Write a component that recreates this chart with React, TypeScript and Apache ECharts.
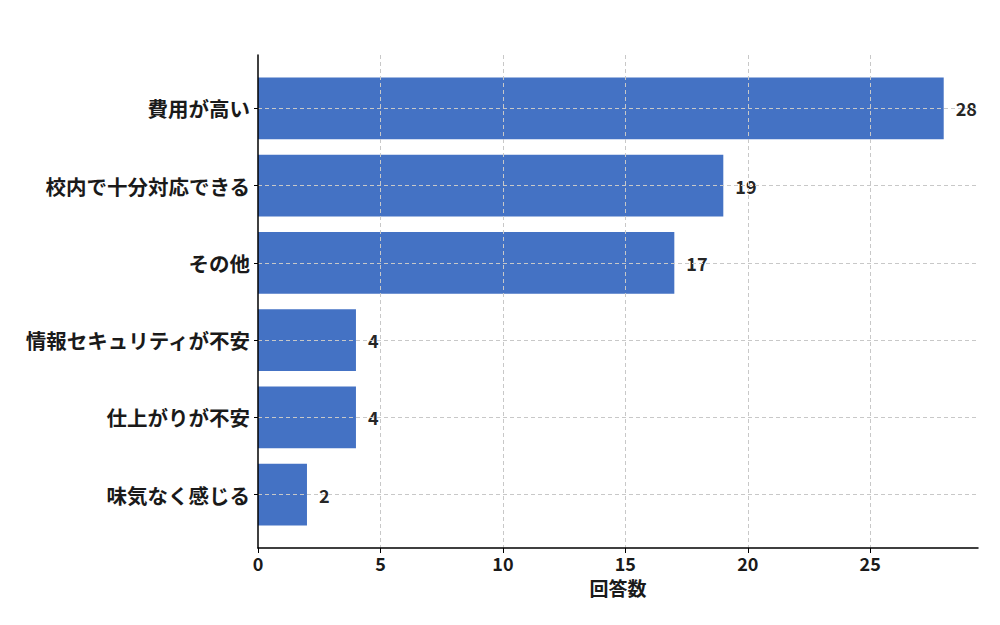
import React, { useEffect, useRef } from "react";
import * as echarts from "echarts";

const categories = ["費用が高い", "校内で十分対応できる", "その他", "情報セキュリティが不安", "仕上がりが不安", "味気なく感じる"];
const values = [28, 19, 17, 4, 4, 2];
const xTicks = [0, 5, 10, 15, 20, 25];
const xMax = 29.4;
const axisName = "回答数";

const FONT = "'Noto Sans CJK JP', 'Noto Sans', sans-serif";

export default function App() {
  const ref = useRef<HTMLDivElement>(null);
  useEffect(() => {
    if (!ref.current) return;
    const chart = echarts.init(ref.current, null, { renderer: "svg" });
    const gridColor = "#c8c8c8";
    chart.setOption({
      animation: false,
      backgroundColor: "#fff",
      grid: [
        { left: 258, right: 22, top: 69.7, bottom: 91.7 },
        { left: 258, right: 22, top: 55, bottom: 77 },
      ],
      xAxis: [
        { gridIndex: 0, type: "value", min: 0, max: xMax, show: false },
        {
          gridIndex: 1,
          type: "value",
          min: 0,
          max: xMax,
          interval: 5,
          z: 5,
          axisLine: { show: true, lineStyle: { color: "#000", width: 1.5 } },
          axisTick: { show: true, length: 5, lineStyle: { color: "#000" } },
          axisLabel: {
            color: "#1a1a1a",
            fontSize: 18,
            fontWeight: "bold",
            fontFamily: FONT,
            margin: 6,
            showMaxLabel: false,
            formatter: (v: number) => (xTicks.includes(v) ? String(v) : ""),
          },
          splitLine: {
            show: true,
            showMinLine: false,
            showMaxLine: false,
            lineStyle: { color: gridColor, type: [4, 3], width: 1 },
          },
          name: axisName,
          nameLocation: "middle",
          nameGap: 30,
          nameTextStyle: { color: "#1a1a1a", fontSize: 19, fontWeight: "bold", fontFamily: FONT },
        },
      ],
      yAxis: [
        {
          gridIndex: 0,
          type: "category",
          data: categories,
          inverse: true,
          axisLine: { show: false },
          axisTick: { show: true, alignWithLabel: true, length: 4, lineStyle: { color: "#000" } },
          axisLabel: {
            color: "#1a1a1a",
            fontSize: 20.5,
            fontWeight: "bold",
            fontFamily: FONT,
            margin: 8,
          },
          splitLine: { show: false },
        },
        {
          gridIndex: 1,
          type: "value",
          min: 0,
          max: 1,
          z: 6,
          axisLine: { show: true, lineStyle: { color: "#000", width: 1.5 } },
          axisTick: { show: false },
          axisLabel: { show: false },
          splitLine: { show: false },
        },
      ],
      series: [
        {
          type: "bar",
          xAxisIndex: 0,
          yAxisIndex: 0,
          data: values,
          barCategoryGap: "20%",
          itemStyle: { color: "#4472C4" },
          label: {
            show: true,
            position: "right",
            distance: 12,
            color: "#262626",
            fontSize: 18,
            fontWeight: "bold",
            fontFamily: FONT,
          },
          markLine: {
            silent: true,
            symbol: "none",
            label: { show: false },
            lineStyle: { color: gridColor, type: [4, 3], width: 1 },
            data: categories.map((c) => ({ yAxis: c })),
          },
        },
      ],
    });
    return () => chart.dispose();
  }, []);
  return <div ref={ref} style={{ width: 1000, height: 625, margin: -8 }} />;
}
